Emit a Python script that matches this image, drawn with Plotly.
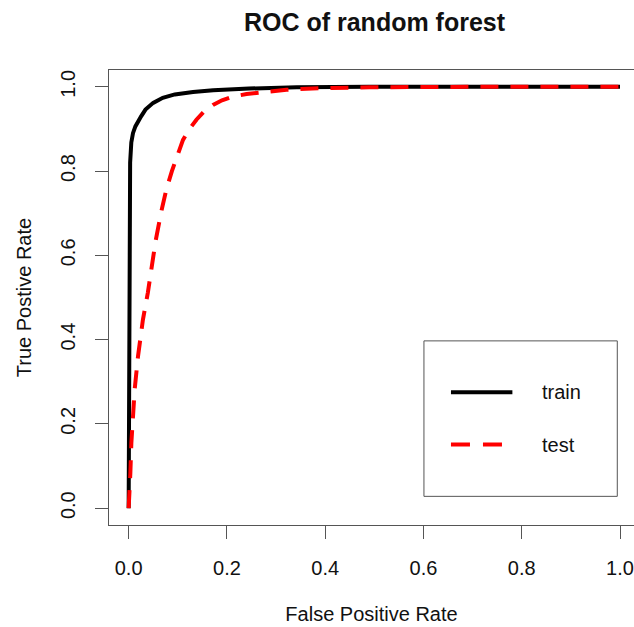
import plotly.graph_objects as go

# ROC data
fpr_train = [0, 0.001, 0.002, 0.003, 0.0054, 0.0088, 0.0137, 0.0196, 0.0254, 0.0342,
             0.0499, 0.0694, 0.0939, 0.131, 0.172, 0.245, 0.342, 0.489, 0.7, 1.0]
tpr_train = [0, 0.45, 0.7, 0.82, 0.868, 0.89, 0.906, 0.92, 0.93, 0.946,
             0.962, 0.974, 0.982, 0.988, 0.992, 0.996, 0.999, 1.0, 1.0, 1.0]

fpr_test = [0, 0.0006, 0.0035, 0.0055, 0.0088, 0.0122, 0.019, 0.029, 0.039, 0.047,
            0.055, 0.0666, 0.077, 0.088, 0.1, 0.1106, 0.124, 0.1379, 0.154, 0.1717,
            0.19, 0.2124, 0.24, 0.2668, 0.3212, 0.39, 0.49, 0.7, 1.0]
tpr_test = [0, 0.012, 0.084, 0.155, 0.234, 0.281, 0.36, 0.447, 0.511, 0.575,
            0.635, 0.705, 0.758, 0.8, 0.84, 0.874, 0.9, 0.922, 0.942, 0.957,
            0.968, 0.977, 0.983, 0.987, 0.993, 0.997, 0.999, 1.0, 1.0]

tick_vals = [0.0, 0.2, 0.4, 0.6, 0.8, 1.0]
tick_text = ["0.0", "0.2", "0.4", "0.6", "0.8", "1.0"]
series_names = ["train", "test"]

FONT = "Liberation Sans, Arial, Helvetica, sans-serif"
AX = "#555555"

fig = go.Figure()
fig.add_trace(go.Scatter(x=fpr_train, y=tpr_train, mode="lines", name=series_names[0],
                         line=dict(color="black", width=4), showlegend=False))
fig.add_trace(go.Scatter(x=fpr_test, y=tpr_test, mode="lines", name=series_names[1],
                         line=dict(color="#ff0000", width=4, dash="18px,12px"), showlegend=False))

# legend drawn R-style (box, line samples, labels)
leg_x0, leg_x1, leg_y0, leg_y1 = 0.601, 0.9945, 0.028, 0.397
fig.add_shape(type="rect", xref="x", yref="y", x0=leg_x0, x1=leg_x1, y0=leg_y0, y1=leg_y1,
              line=dict(color=AX, width=1), fillcolor="rgba(0,0,0,0)")
leg_rows = [0.275, 0.151]
leg_styles = [dict(color="black", width=4), dict(color="#ff0000", width=4, dash="19px,13px")]
for name, yy, st in zip(series_names, leg_rows, leg_styles):
    fig.add_shape(type="line", xref="x", yref="y", x0=0.656, x1=0.781, y0=yy, y1=yy, line=st)
    fig.add_annotation(x=0.837, y=yy, xref="x", yref="y", text=name, showarrow=False,
                       xanchor="left", yanchor="middle", font=dict(family=FONT, size=20, color="#111"))

fig.update_layout(
    width=634, height=627,
    margin=dict(l=109, r=0, t=70, b=102, autoexpand=False),
    paper_bgcolor="white", plot_bgcolor="white",
    title=dict(text="<b>ROC of random forest</b>", x=374.5 / 634, xanchor="center",
               y=1 - 22 / 627, yanchor="middle", yref="container",
               font=dict(family=FONT, size=25, color="#111")),
    font=dict(family=FONT, size=20, color="#111"),
)
fig.update_xaxes(range=[-0.04, 1.0285], tickvals=tick_vals, ticktext=tick_text,
                 showgrid=False, zeroline=False, showline=True, mirror=True, automargin=False,
                 linecolor=AX, linewidth=1, ticks="outside", ticklen=13, tickcolor=AX,
                 tickwidth=1, tickfont=dict(size=20, color="#111"), ticklabelstandoff=12,
                 title=dict(text="False Positive Rate", font=dict(size=20, color="#111"), standoff=28))
fig.update_yaxes(range=[-0.04, 1.04], tickvals=tick_vals, ticktext=tick_text,
                 showgrid=False, zeroline=False, showline=True, mirror=False, automargin=False,
                 linecolor=AX, linewidth=1, ticks="outside", ticklen=13, tickcolor=AX,
                 tickwidth=1, tickangle=-90, tickfont=dict(size=20, color="#111"),
                 ticklabelstandoff=12,
                 title=dict(text="True Postive Rate", font=dict(size=20, color="#111"), standoff=20))

fig.write_html("out.html", config={"displayModeBar": False},
               post_script="document.body.style.margin='0';document.body.style.overflow='hidden';")
